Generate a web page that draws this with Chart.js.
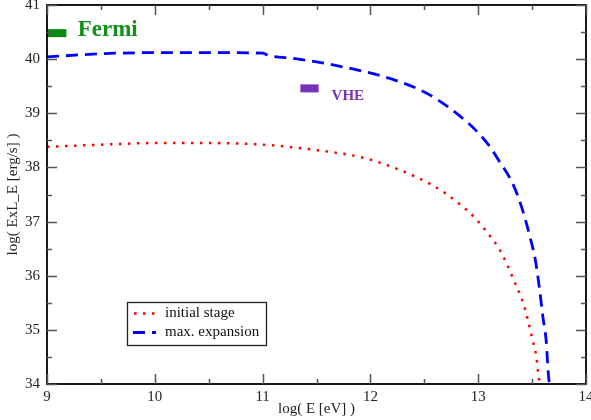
<!DOCTYPE html>
<html><head><meta charset="utf-8">
<script src="https://cdn.jsdelivr.net/npm/chart.js@4/dist/chart.umd.min.js"></script>
<style>html,body{margin:0;padding:0;background:#fff}#w{width:591px;height:420px}</style>
</head><body><div id="w"><canvas id="c" width="591" height="420"></canvas></div>
<script>
const initialX = [9, 9.5, 10, 10.5, 11, 11.5, 11.95, 12.29, 12.54, 12.69, 12.83, 12.97, 13.08, 13.19, 13.27, 13.34, 13.41, 13.46, 13.50, 13.54, 13.56, 13.58];
const initialY = [38.38, 38.42, 38.45, 38.45, 38.42, 38.32, 38.17, 37.94, 37.71, 37.53, 37.32, 37.07, 36.81, 36.51, 36.20, 35.87, 35.54, 35.19, 34.85, 34.50, 34.14, 34.0];
const maxX = [9, 9.5, 10, 10.5, 11, 11.05, 11.3, 11.5, 11.81, 12.12, 12.43, 12.55, 12.72, 12.86, 12.99, 13.11, 13.20, 13.30, 13.37, 13.43, 13.48, 13.53, 13.57, 13.60, 13.63, 13.65, 13.66];
const maxY = [40.04, 40.10, 40.12, 40.12, 40.11, 40.07, 40.01, 39.95, 39.83, 39.68, 39.46, 39.34, 39.12, 38.90, 38.66, 38.38, 38.10, 37.78, 37.46, 37.09, 36.72, 36.29, 35.74, 35.24, 34.81, 34.20, 34.0];
const fermiX = [9.0, 9.18];
const fermiY = [40.48, 40.48];
const vheX = [11.35, 11.52];
const vheY = [39.46, 39.46];
const xTicks = [9, 10, 11, 12, 13, 14];
const yTicks = [34, 35, 36, 37, 38, 39, 40, 41];
const legendLabels = ["initial stage", "max. expansion"];

const pts = (xs, ys) => xs.map((x, i) => ({x, y: ys[i]}));
const SERIF = "'Liberation Serif', 'DejaVu Serif', serif";

const decor = {
  id: 'decor',
  afterDraw(chart) {
    const {ctx, chartArea: a, scales: {x, y}} = chart;
    ctx.save();
    // frame
    ctx.strokeStyle = '#000'; ctx.lineWidth = 1.8;
    ctx.strokeRect(a.left, a.top, a.right - a.left, a.bottom - a.top);
    // ticks inside
    ctx.strokeStyle = '#555'; ctx.lineWidth = 1.5;
    ctx.beginPath();
    for (let v = 9; v <= 14.001; v += 0.5) {
      const p = Math.round(x.getPixelForValue(v)) + 0.5;
      const L = Math.abs(v - Math.round(v)) < 1e-6 ? 10 : 5;
      ctx.moveTo(p, a.bottom); ctx.lineTo(p, a.bottom - L);
      ctx.moveTo(p, a.top); ctx.lineTo(p, a.top + L);
    }
    for (let v = 34; v <= 41.001; v += 0.5) {
      const p = Math.round(y.getPixelForValue(v)) + 0.5;
      const L = Math.abs(v - Math.round(v)) < 1e-6 ? 10 : 5;
      ctx.moveTo(a.left, p); ctx.lineTo(a.left + L, p);
      ctx.moveTo(a.right, p); ctx.lineTo(a.right - L, p);
    }
    ctx.stroke();
    // annotations
    ctx.textBaseline = 'alphabetic';
    ctx.font = 'bold 23px ' + SERIF;
    ctx.fillStyle = '#12901a';
    ctx.fillText('Fermi', x.getPixelForValue(9.285), y.getPixelForValue(40.43));
    ctx.font = 'bold 15px ' + SERIF;
    ctx.fillStyle = '#7a2fbf';
    ctx.fillText('VHE', x.getPixelForValue(11.64), y.getPixelForValue(39.25));
    // legend
    const bx = 127, by = 302, bw = 139, bh = 43;
    ctx.strokeStyle = '#222'; ctx.lineWidth = 1.3;
    ctx.strokeRect(bx + 0.5, by + 0.5, bw, bh);
    ctx.lineWidth = 2.5;
    ctx.strokeStyle = '#ff0000'; ctx.setLineDash([2.5, 6.5]);
    ctx.beginPath(); ctx.moveTo(134, 313.5); ctx.lineTo(156, 313.5); ctx.stroke();
    ctx.strokeStyle = '#0000ff'; ctx.setLineDash([12, 7]); ctx.lineWidth = 2.8;
    ctx.beginPath(); ctx.moveTo(133, 332.5); ctx.lineTo(156, 332.5); ctx.stroke();
    ctx.setLineDash([]);
    ctx.font = '15px ' + SERIF; ctx.fillStyle = '#111';
    ctx.textBaseline = 'middle';
    ctx.fillText(legendLabels[0], 165, 313);
    ctx.fillText(legendLabels[1], 165, 332);
    ctx.restore();
  }
};

const zeroPad = s => { s.paddingLeft = 0; s.paddingRight = 0; s.paddingTop = 0; s.paddingBottom = 0; };

new Chart(document.getElementById('c'), {
  type: 'scatter',
  data: {
    datasets: [
      {label: legendLabels[0], data: pts(initialX, initialY), showLine: true, borderColor: '#ff0000', borderWidth: 2.5, borderDash: [2.5, 6.5], pointRadius: 0, cubicInterpolationMode: 'monotone', borderCapStyle: 'butt'},
      {label: legendLabels[1], data: pts(maxX, maxY), showLine: true, borderColor: '#0000ff', borderWidth: 2.8, borderDash: [12, 7], pointRadius: 0, cubicInterpolationMode: 'monotone'},
      {label: 'Fermi', data: pts(fermiX, fermiY), showLine: true, borderColor: '#0a8a10', borderWidth: 8, pointRadius: 0},
      {label: 'VHE', data: pts(vheX, vheY), showLine: true, borderColor: '#7a2fbf', borderWidth: 8, pointRadius: 0}
    ]
  },
  options: {
    responsive: false, animation: false,
    layout: {padding: {top: 5, right: 5, left: 0, bottom: 0}},
    plugins: {legend: {display: false}, tooltip: {enabled: false}},
    scales: {
      x: {
        type: 'linear', min: 9, max: 14,
        afterFit: s => { s.height = 36; zeroPad(s); },
        afterBuildTicks: s => { s.ticks = xTicks.map(v => ({value: v})); },
        grid: {display: false, drawTicks: false},
        border: {display: false},
        ticks: {color: '#222', font: {family: SERIF, size: 15}, padding: 4, maxRotation: 0},
        title: {display: true, text: 'log( E [eV] )', color: '#222', font: {family: SERIF, size: 15}, padding: {top: 0, bottom: 2}}
      },
      y: {
        type: 'linear', min: 34, max: 41,
        afterFit: s => { s.width = 47; zeroPad(s); },
        afterBuildTicks: s => { s.ticks = yTicks.map(v => ({value: v})); },
        grid: {display: false, drawTicks: false},
        border: {display: false},
        ticks: {color: '#222', font: {family: SERIF, size: 15}, padding: 7},
        title: {display: true, text: 'log( ExL_E [erg/s] )', color: '#222', font: {family: SERIF, size: 15}, padding: {top: 4, bottom: 2}}
      }
    }
  },
  plugins: [decor]
});
</script></body></html>
